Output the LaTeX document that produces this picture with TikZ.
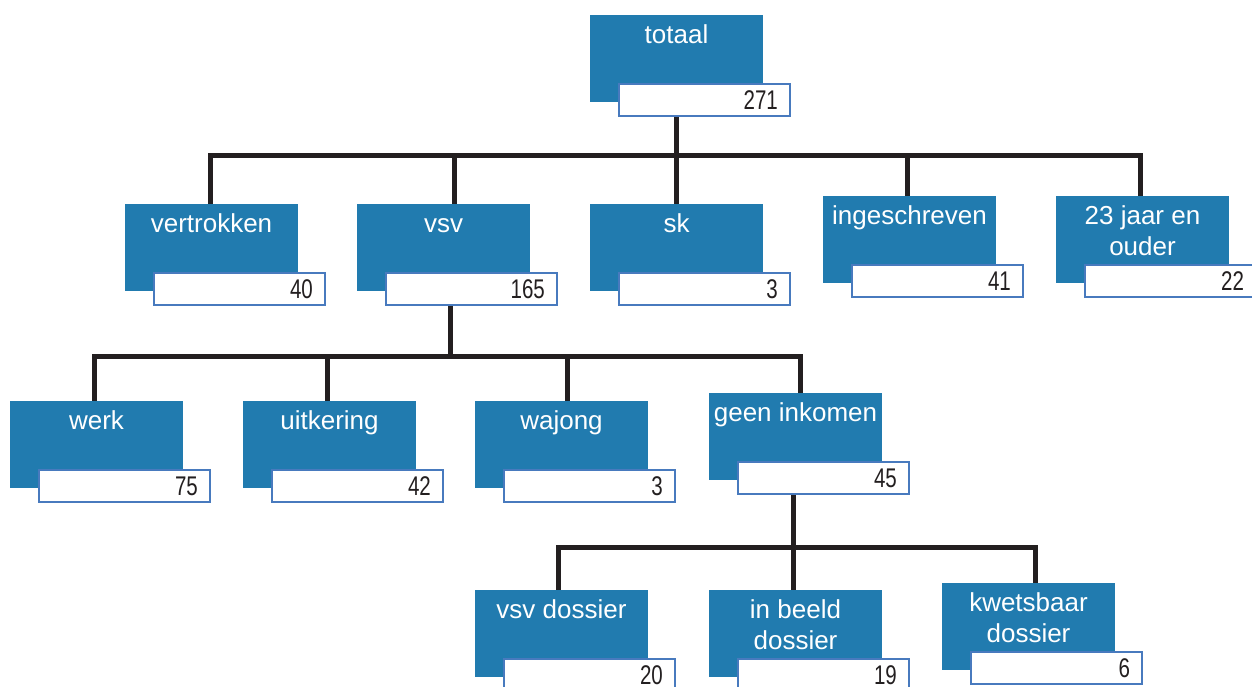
\documentclass[tikz,border=0pt]{standalone}
\usepackage{fontspec}
\setmainfont{Liberation Sans}
\newfontfamily\numfont{Liberation Sans}[FakeStretch=0.76]
\usetikzlibrary{calc}
\definecolor{boxblue}{RGB}{33,123,175}
\definecolor{numborder}{RGB}{72,122,190}
\definecolor{linecol}{RGB}{35,31,32}
\tikzset{
  bluebox/.style={fill=boxblue, draw=none, minimum width=173pt, minimum height=87pt, inner sep=0pt},
  numbox/.style={fill=white, draw=numborder, line width=2.2pt, minimum width=171pt, minimum height=32pt, inner sep=0pt},
  lbl/.style={text=white, font=\fontsize{26}{31}\selectfont, inner sep=0pt, anchor=base},
  numtxt/.style={text=linecol, font=\numfont\fontsize{27}{31}\selectfont, inner sep=0pt, anchor=base east},
  conn/.style={draw=linecol, line width=5pt},
}
% name, x, y (top-left of blue box), line1, line2, number
\newcommand\tbox[6]{%
  \node[bluebox] (#1) at (#2+86.5,#3+43.5) {};
  \node[numbox] (#1n) at (#2+114.5,#3+85) {};
  \node[lbl] (#1l) at ($(#1.north)+(0,29)$) {#4};
  \if\relax\detokenize{#5}\relax\else
  \node[lbl] (#1m) at ($(#1.north)+(0,60)$) {#5};\fi
  \node[numtxt] (#1v) at ($(#1n.east)+(-13,9.5)$) {#6};
}
\begin{document}
\begin{tikzpicture}[x=1pt,y=-1pt]
\useasboundingbox (0,0) rectangle (1252,687);
% connectors (drawn first)
\coordinate (tt) at (676,117);
\coordinate (vs) at (450,307);
\coordinate (gi) at (793,496);
\tbox{totaal}{590}{15}{totaal}{}{271}
\tbox{vertrokken}{125}{204}{vertrokken}{}{40}
\tbox{vsv}{357}{204}{vsv}{}{165}
\tbox{sk}{590}{204}{sk}{}{3}
\tbox{ingeschreven}{823}{196}{ingeschreven}{}{41}
\tbox{ouder}{1056}{196}{23 jaar en}{ouder}{22}
\tbox{werk}{10}{401}{werk}{}{75}
\tbox{uitkering}{243}{401}{uitkering}{}{42}
\tbox{wajong}{475}{401}{wajong}{}{3}
\tbox{geen}{709}{393}{geen inkomen}{}{45}
\tbox{vsvdos}{475}{590}{vsv dossier}{}{20}
\tbox{inbeeld}{709}{590}{in beeld}{dossier}{19}
\tbox{kwets}{942}{583}{kwetsbaar}{dossier}{6}
\begin{scope}[on background layer/.style={}]
\end{scope}
% level 1
\draw[conn] ([xshift=-0.5pt]totaal.center |- totaaln.south) -- ++(0,38) coordinate (b1);
\foreach \c/\d in {vertrokken/-1, vsv/11, sk/0, ingeschreven/-2, ouder/-2}
  \draw[conn] (b1) -| ([xshift=\d pt]\c.north);
% level 2
\draw[conn] ([xshift=6.5pt]vsv.center |- vsvn.south) -- ++(0,50) coordinate (b2);
\foreach \c/\d in {werk/-2, uitkering/-2, wajong/6, geen/4.5}
  \draw[conn] (b2) -| ([xshift=\d pt]\c.north);
% level 3
\draw[conn] ([xshift=-2.5pt]geen.center |- geenn.south) -- ++(0,52) coordinate (b3);
\foreach \c/\d in {vsvdos/-3.5, inbeeld/-2.5, kwets/6.5}
  \draw[conn] (b3) -| ([xshift=\d pt]\c.north);
\end{tikzpicture}
\end{document}
